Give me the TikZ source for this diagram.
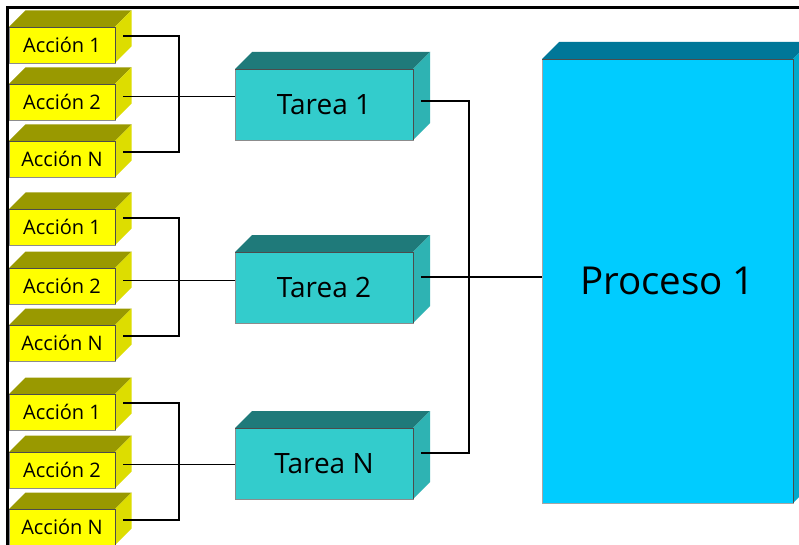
\documentclass[tikz,border=0pt]{standalone}
\usepackage{fontspec}
\setmainfont{Open Sans}
\usetikzlibrary{calc}

% face colours of the three kinds of blocks
\definecolor{accFront}{HTML}{FFFF00}
\definecolor{accTop}{HTML}{999900}
\definecolor{accSide}{HTML}{DDDD00}
\definecolor{tarFront}{HTML}{33CCCC}
\definecolor{tarTop}{HTML}{1F7A7A}
\definecolor{tarSide}{HTML}{2EB3B3}
\definecolor{proFront}{HTML}{00CCFF}
\definecolor{proTop}{HTML}{007799}
\definecolor{proSide}{HTML}{00AACC}

% top and right faces of a block drawn behind its front node
% #1 node, #2 depth (pt), #3 top colour, #4 side colour
\newcommand{\blockfaces}[4]{%
  \fill[#3] (#1.north west) -- ++(#2pt,#2pt) -- ([shift={(#2pt,#2pt)}]#1.north east) -- (#1.north east) -- cycle;
  \fill[#4] (#1.north east) -- ([shift={(#2pt,#2pt)}]#1.north east) -- ([shift={(#2pt,#2pt)}]#1.south east) -- (#1.south east) -- cycle;
  \draw[black!70, line width=0.5pt] (#1.north west) -- (#1.north east) -- (#1.south east);
}

\tikzset{
  accbox/.style={fill=accFront, draw=black!45, line width=0.4pt, inner sep=0pt, outer sep=0pt,
    minimum width=106pt, minimum height=36pt, font=\fontsize{20}{23}\selectfont},
  tarbox/.style={fill=tarFront, draw=black!45, line width=0.4pt, inner sep=0pt, outer sep=0pt,
    minimum width=178pt, minimum height=71pt, font=\fontsize{28}{31}\selectfont},
  probox/.style={fill=proFront, draw=black!35, line width=0.4pt, inner sep=0pt, outer sep=0pt,
    minimum width=251pt, minimum height=444pt, font=\fontsize{38.5}{42}\selectfont},
  wire/.style={black, line width=1.3pt},
  frame/.style={black, line width=2.2pt}
}

\begin{document}
\begin{tikzpicture}[x=1pt, y=-1pt]
\useasboundingbox (0,0) rectangle (799,545);
\clip (0,0) rectangle (799,545);
\fill[white] (0,0) rectangle (799,545);

% outer frame (top and left edges)
\draw[frame] (7.5,545) -- (7.5,7.5) -- (799,7.5);

% Acciones, three groups of three
\foreach \g/\ya/\yb/\yn in {1/45/102/159, 2/227/286/343, 3/412/470/527}{
  \node[accbox] (g\g a1) at (62,\ya) {Acción 1};
  \blockfaces{g\g a1}{16.5}{accTop}{accSide}
  \node[accbox] (g\g a2) at (62,\yb) {Acción 2};
  \blockfaces{g\g a2}{16.5}{accTop}{accSide}
  \node[accbox] (g\g an) at (62,\yn) {Acción N};
  \blockfaces{g\g an}{16.5}{accTop}{accSide}
}

% Tareas
\node[tarbox] (t1) at (324,104.5) {Tarea 1};
\blockfaces{t1}{17}{tarTop}{tarSide}
\node[tarbox] (t2) at (324,287.5) {Tarea 2};
\blockfaces{t2}{17}{tarTop}{tarSide}
\node[tarbox] (tn) at (324,463.5) {Tarea N};
\blockfaces{tn}{17}{tarTop}{tarSide}

% Proceso
\node[probox] (p1) at (667.5,281) {Proceso 1};
\blockfaces{p1}{17}{proTop}{proSide}

% connection points on the side faces
\foreach \g in {1,2,3}{
  \coordinate (g\g p1) at ([shift={(8pt,9pt)}]g\g a1.east);
  \coordinate (g\g p2) at ([shift={(8pt,5.5pt)}]g\g a2.east);
  \coordinate (g\g pn) at ([shift={(8pt,7pt)}]g\g an.east);
}
\coordinate (t1p) at ([shift={(8pt,3.5pt)}]t1.east);
\coordinate (t2p) at ([shift={(8pt,10.5pt)}]t2.east);
\coordinate (tnp) at ([shift={(8pt,10.5pt)}]tn.east);

% group buses and their links to the Tareas
\foreach \g/\t in {1/t1, 2/t2, 3/tn}{
  \coordinate (g\g bus) at (179,0);
  \draw[wire] (g\g p1) -| (g\g bus |- g\g p1) -- (g\g bus |- g\g pn) -- (g\g pn);
  \draw[wire] (g\g p2) -- (g\g p2 -| \t.west);
}

% Tareas to Proceso
\coordinate (bus) at (469,0);
\draw[wire] (t1p) -- (t1p -| bus) -- (tnp -| bus) -- (tnp);
\draw[wire] (t2p) -- (t2p -| p1.west);
\end{tikzpicture}
\end{document}
